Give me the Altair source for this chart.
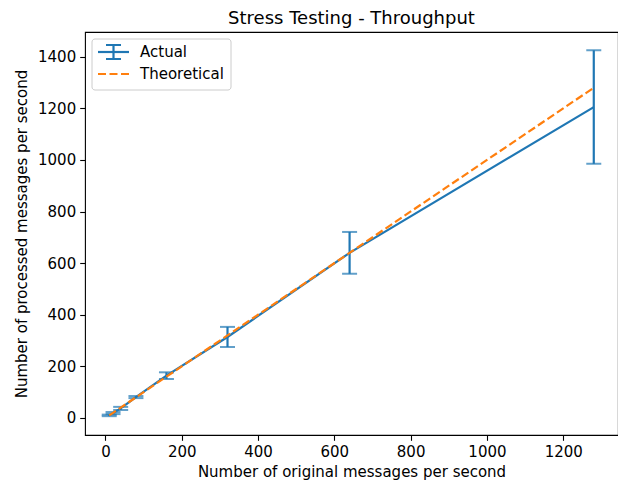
import altair as alt
import pandas as pd

# ---- data ----
sent = [10, 20, 40, 80, 160, 320, 640, 1280]
actual = [10, 19, 37, 81, 164, 314, 640, 1205]
error = [3, 4, 6, 4, 13, 39, 81, 220]
theoretical = [10, 20, 40, 80, 160, 320, 640, 1280]

x_ticks = [0, 200, 400, 600, 800, 1000, 1200]
y_ticks = [0, 200, 400, 600, 800, 1000, 1200, 1400]

df = pd.DataFrame({
    "x": sent,
    "y": actual,
    "lo": [a - e for a, e in zip(actual, error)],
    "hi": [a + e for a, e in zip(actual, error)],
    "t": theoretical,
})

BLUE = "#1f77b4"
ORANGE = "#ff7f0e"
FONT = "DejaVu Sans"
FS = 15

xscale = alt.Scale(domain=[-53.5, 1343.5], nice=False, zero=False)
yscale = alt.Scale(domain=[-66, 1496], nice=False, zero=False)

common_axis = dict(grid=False, domain=False, tickSize=5.3, tickWidth=1.1, tickColor="black",
                   labelFontSize=FS, labelFont=FONT, labelColor="black", labelPadding=4,
                   titleFontSize=FS, titleFont=FONT, titleFontWeight="normal", titleColor="black")
xaxis = alt.Axis(values=x_ticks, format="d", title="Number of original messages per second",
                 titlePadding=5, **common_axis)
yaxis = alt.Axis(values=y_ticks, format="d", title="Number of processed messages per second",
                 titlePadding=8, **common_axis)

base = alt.Chart(df)

actual_line = base.mark_line(color=BLUE, strokeWidth=2.2).encode(
    x=alt.X("x:Q", scale=xscale, axis=xaxis),
    y=alt.Y("y:Q", scale=yscale, axis=yaxis),
)
err_rule = base.mark_rule(color=BLUE, strokeWidth=2.2).encode(
    x="x:Q", y="lo:Q", y2="hi:Q"
)
cap_lo = base.mark_tick(color=BLUE, orient="horizontal", size=15, thickness=2).encode(
    x="x:Q", y="lo:Q"
)
cap_hi = base.mark_tick(color=BLUE, orient="horizontal", size=15, thickness=2).encode(
    x="x:Q", y="hi:Q"
)
theo_line = base.mark_line(color=ORANGE, strokeWidth=2.2, strokeDash=[8, 3.5]).encode(
    x="x:Q", y="t:Q"
)

# ---- legend (drawn in plot-pixel space) ----
one = alt.Data(values=[{}])
leg_box = alt.Chart(one).mark_rect(fill="white", fillOpacity=0.8, stroke="#cccccc",
                                   strokeWidth=1, cornerRadius=3).encode(
    x=alt.value(7), x2=alt.value(146), y=alt.value(7), y2=alt.value(58))
leg_a_line = alt.Chart(one).mark_rule(color=BLUE, strokeWidth=2.2).encode(
    x=alt.value(13), x2=alt.value(44), y=alt.value(20))
leg_a_vert = alt.Chart(one).mark_rule(color=BLUE, strokeWidth=2.2).encode(
    x=alt.value(28.5), y=alt.value(13), y2=alt.value(27))
leg_a_cap1 = alt.Chart(one).mark_rule(color=BLUE, strokeWidth=2).encode(
    x=alt.value(21), x2=alt.value(36), y=alt.value(13))
leg_a_cap2 = alt.Chart(one).mark_rule(color=BLUE, strokeWidth=2).encode(
    x=alt.value(21), x2=alt.value(36), y=alt.value(27))
leg_t_line = alt.Chart(one).mark_rule(color=ORANGE, strokeWidth=2.2, strokeDash=[8, 3.5]).encode(
    x=alt.value(13), x2=alt.value(44), y=alt.value(42))
leg_a_text = alt.Chart(one).mark_text(align="left", baseline="middle", fontSize=FS,
                                      font=FONT, color="black").encode(
    x=alt.value(55), y=alt.value(20), text=alt.value("Actual"))
leg_t_text = alt.Chart(one).mark_text(align="left", baseline="middle", fontSize=FS,
                                      font=FONT, color="black").encode(
    x=alt.value(55), y=alt.value(42), text=alt.value("Theoretical"))

chart = alt.layer(
    actual_line, err_rule, cap_lo, cap_hi, theo_line,
    leg_box, leg_a_line, leg_a_vert, leg_a_cap1, leg_a_cap2, leg_t_line, leg_a_text, leg_t_text,
).properties(
    width=533,
    height=403,
    title=alt.TitleParams("Stress Testing - Throughput", fontSize=18, fontWeight="normal",
                          font=FONT, color="black", anchor="middle", offset=4),
    autosize=alt.AutoSizeParams(type="none"),
    padding={"left": 77, "top": 24, "right": 0, "bottom": 55},
).configure_view(stroke="black", strokeWidth=1.1)

chart.save("out.html", embed_options={"renderer": "svg", "actions": False})
